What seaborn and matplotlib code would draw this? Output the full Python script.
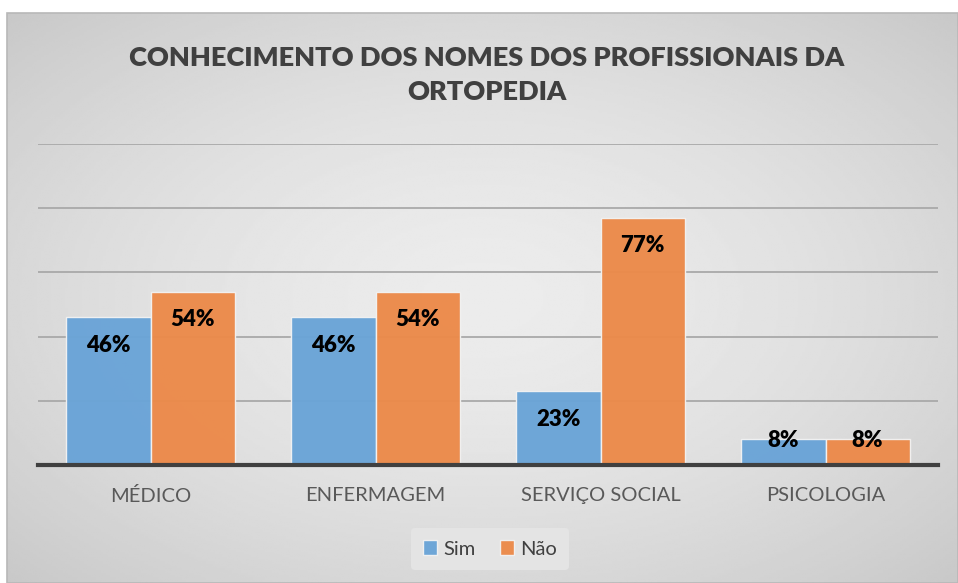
import numpy as np
import pandas as pd
import matplotlib
matplotlib.use("Agg")
import matplotlib.pyplot as plt
from matplotlib.patches import Rectangle
import seaborn as sns

# chart data
categories = ["MÉDICO", "ENFERMAGEM", "SERVIÇO SOCIAL", "PSICOLOGIA"]
series_names = ["Sim", "Não"]
sim_values = [46, 46, 23, 8]
nao_values = [54, 54, 77, 8]
title = "CONHECIMENTO DOS NOMES DOS PROFISSIONAIS DA\nORTOPEDIA"

colors = {"Sim": "#6aa4d7", "Não": "#ec8a4a"}

df = pd.DataFrame({
    "categoria": categories * 2,
    "serie": [series_names[0]] * len(categories) + [series_names[1]] * len(categories),
    "valor": sim_values + nao_values,
})

sns.set_theme(style="white")
plt.rcParams["font.family"] = ["Lato", "DejaVu Sans"]

W, H = 958, 583
fig = plt.figure(figsize=(W / 100, H / 100), dpi=100)
fig.patch.set_facecolor("white")

# radial grey background of the chart area (Excel style)
x0 = 7
bg = fig.add_axes([x0 / W, 0, (W - x0) / W, (H - 13) / H], zorder=-2)
gx, gy = np.meshgrid(np.linspace(-1, 1, 400), np.linspace(-1, 1, 250))
r = np.sqrt(gx ** 2 + gy ** 2) / np.sqrt(2)
shade = 0.925 - 0.14 * r ** 1.6
bg.imshow(shade, cmap="gray", vmin=0, vmax=1, aspect="auto", extent=[0, 1, 0, 1])
bg.set_xlim(0, 1)
bg.set_ylim(0, 1)
bg.axis("off")
fig.add_artist(Rectangle((x0 / W, 0), (W - x0) / W, (H - 13) / H,
                         transform=fig.transFigure, fill=False,
                         edgecolor="#b8b8b8", lw=1.2, zorder=-1))

ax = fig.add_axes([38 / W, (H - 465) / H, 900 / W, (465 - 144) / H])
ax.set_facecolor("none")

sns.barplot(data=df, x="categoria", y="valor", hue="serie",
            order=categories, hue_order=series_names, palette=colors,
            saturation=1, width=0.747, gap=0, edgecolor="#f2f2f2", linewidth=1,
            alpha=0.97, errorbar=None, ax=ax, zorder=3)

ax.set_ylim(0, 100)
ax.set_yticks([20, 40, 60, 80, 100])
ax.yaxis.grid(True, color="#a9a9a9", lw=1.3, zorder=0)
ax.set_axisbelow(True)
ax.tick_params(axis="y", left=False, labelleft=False)
ax.tick_params(axis="x", length=0, pad=16, labelsize=14.5, labelcolor="#595959")
ax.set_xlabel("")
ax.set_ylabel("")
for s in ["top", "right", "left"]:
    ax.spines[s].set_visible(False)
ax.spines["bottom"].set_color("#404040")
ax.spines["bottom"].set_linewidth(3)
ax.spines["bottom"].set_zorder(5)

# data labels, inside end
for container in ax.containers:
    for bar in container:
        v = bar.get_height()
        cx = bar.get_x() + bar.get_width() / 2
        ty = v - 8.7 if v - 8.7 > 12 else v - 0.3
        ax.text(cx, ty, f"{v:.0f}%", ha="center", va="center",
                fontsize=16, fontweight="heavy", color="black", zorder=6)

fig.text(0.508, (H - 75) / H, title, ha="center", va="center",
         fontsize=19.5, fontweight="heavy", color="#404040", linespacing=1.45)

leg = ax.legend(loc="center", bbox_to_anchor=(490 / W, (H - 549) / H),
                bbox_transform=fig.transFigure, ncol=2, frameon=True,
                fontsize=14.5, handlelength=0.7, handleheight=0.7,
                handletextpad=0.3, columnspacing=1.2, borderpad=0.6)
leg.get_frame().set_facecolor("#e4e4e4")
leg.get_frame().set_edgecolor("none")
leg.get_frame().set_alpha(1)
for t in leg.get_texts():
    t.set_color("#404040")

fig.savefig("out.png", dpi=100)
